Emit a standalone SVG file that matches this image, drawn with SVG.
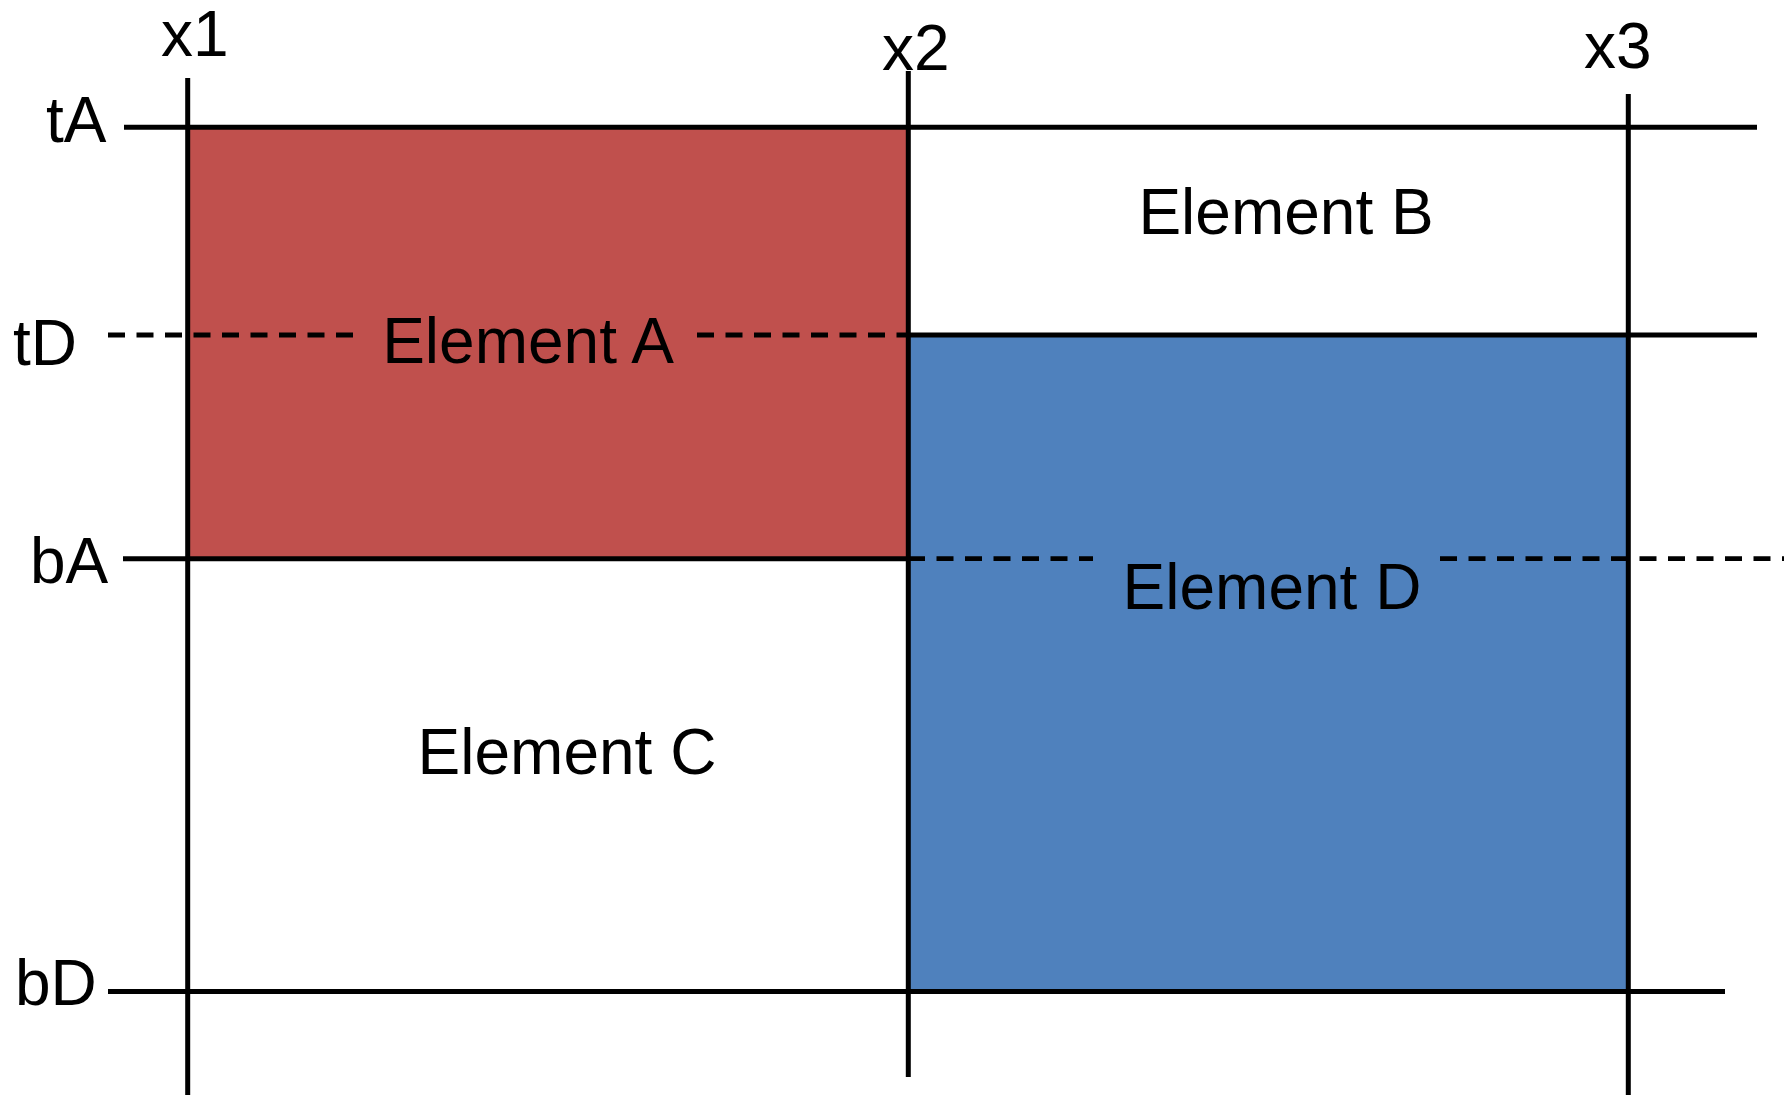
<svg xmlns="http://www.w3.org/2000/svg" width="1784" height="1095" viewBox="0 0 1784 1095">
  <style>
    .ln { stroke: #000; stroke-width: 5; fill: none; }
    .dash { stroke: #000; stroke-width: 4.8; fill: none; stroke-dasharray: 17 11.5; }
    .lbl { font-family: "Liberation Sans", Arial, sans-serif; font-size: 64px; fill: #000; }
    .mid { text-anchor: middle; }
  </style>
  <rect width="1784" height="1095" fill="#fff"/>
  <g id="element-a">
    <rect x="187.7" y="127.3" width="720.6" height="431.4" fill="#C0504D"/>
    <text class="lbl mid" x="528" y="363">Element A</text>
  </g>
  <g id="element-b">
    <text class="lbl mid" x="1286" y="234">Element B</text>
  </g>
  <g id="element-c">
    <text class="lbl mid" x="567" y="774">Element C</text>
  </g>
  <g id="element-d">
    <rect x="908.3" y="335" width="720" height="656.5" fill="#4F81BD"/>
    <text class="lbl mid" x="1272" y="609">Element D</text>
  </g>
  <g id="connectors">
    <line class="ln" x1="124" y1="127.3" x2="1757" y2="127.3"/>
    <line class="dash" x1="108" y1="335" x2="364" y2="335"/>
    <line class="dash" x1="697" y1="335" x2="908" y2="335"/>
    <line class="ln" x1="908" y1="335" x2="1757" y2="335"/>
    <line class="ln" x1="123" y1="558.7" x2="908" y2="558.7"/>
    <line class="dash" x1="908" y1="558.7" x2="1093" y2="558.7"/>
    <line class="dash" x1="1440" y1="558.7" x2="1784" y2="558.7"/>
    <line class="ln" x1="108" y1="991.5" x2="1725" y2="991.5"/>
    <line class="ln" x1="187.7" y1="78" x2="187.7" y2="1095"/>
    <line class="ln" x1="908.3" y1="71" x2="908.3" y2="1077"/>
    <line class="ln" x1="1628.3" y1="94" x2="1628.3" y2="1095"/>
  </g>
  <g id="axis-labels">
    <text class="lbl" x="161" y="56">x1</text>
    <text class="lbl" x="882" y="70">x2</text>
    <text class="lbl" x="1584" y="68">x3</text>
    <text class="lbl" x="46" y="142">tA</text>
    <text class="lbl" x="13" y="365">tD</text>
    <text class="lbl" x="30" y="583">bA</text>
    <text class="lbl" x="15" y="1005">bD</text>
  </g>
</svg>
